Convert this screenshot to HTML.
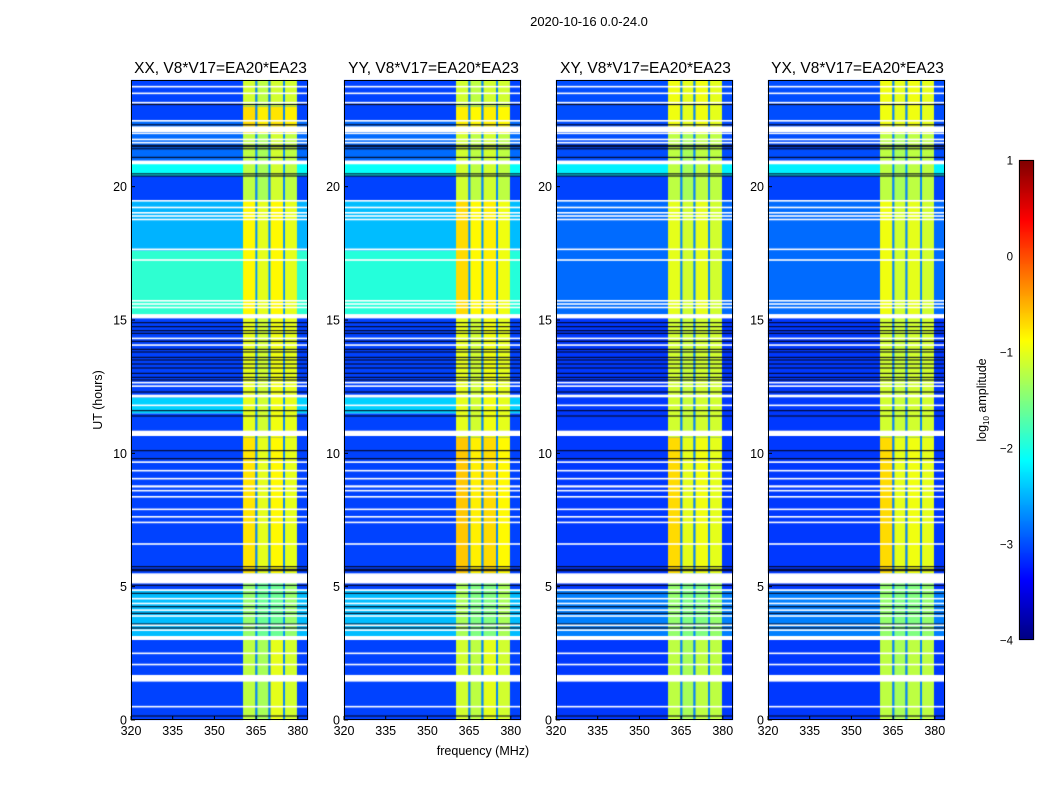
<!DOCTYPE html>
<html><head><meta charset="utf-8"><style>
body{margin:0;background:#fff;}
#wrap{position:relative;width:1050px;height:800px;overflow:hidden;font-family:"Liberation Sans",sans-serif;}
canvas,svg{position:absolute;left:0;top:0;}
</style></head><body>
<div id="wrap">
<canvas id="cv" width="1050" height="800"></canvas>
<svg id="sv" width="1050" height="800"></svg>
</div>
<script>
// ---- data ----
const panelTitles = ["XX, V8*V17=EA20*EA23","YY, V8*V17=EA20*EA23","XY, V8*V17=EA20*EA23","YX, V8*V17=EA20*EA23"];
const xTicks = [320,335,350,365,380];
const yTicks = [0,5,10,15,20];
const cbTicks = [1,0,-1,-2,-3,-4];
const subBands = [[360.3,364.8],[365.4,369.5],[370.1,374.8],[375.4,379.7]];
const darkStripes = [[364.8,365.4],[369.5,370.1],[374.8,375.4]];
const whiteFlags = [[23.72,23.78],[23.47,23.53],[23.12,23.18],[22.44,22.5],[22.05,22.26],[21.97,22.03],[21.74,21.8],[21.62,21.68],[20.84,20.98],[19.44,19.5],[19.19,19.25],[18.99,19.05],[18.87,18.93],[18.74,18.8],[17.62,17.68],[17.22,17.28],[15.69,15.75],[15.57,15.63],[15.44,15.5],[15.06,15.22],[14.28,14.34],[14.03,14.09],[12.62,12.68],[12.49,12.55],[12.1,12.2],[11.77,11.83],[10.65,10.85],[9.64,9.7],[9.32,9.38],[9.02,9.08],[8.72,8.8],[8.57,8.63],[8.34,8.4],[7.87,7.93],[7.59,7.65],[7.38,7.44],[6.57,6.63],[5.12,5.5],[4.84,4.9],[4.52,4.58],[4.34,4.4],[4.09,4.15],[3.87,3.93],[3.52,3.58],[3.34,3.4],[3.0,3.15],[2.47,2.53],[2.05,2.11],[1.44,1.69],[0.47,0.53]];
const blackLines = [23.08,22.32,21.55,21.5,21.42,21.1,20.48,20.4,14.9,14.75,14.6,14.5,14.2,13.9,13.8,13.6,13.5,13.35,13.2,13.0,12.85,12.75,12.3,11.6,11.4,10.1,9.8,5.75,5.65,5.6,5.05,4.75,4.25,4.0,3.6,3.45,0.15];
const bgXX = [[0,3,-3.05],[3,4.9,-2.45],[4.9,11.5,-3.05],[11.5,12.1,-2.35],[12.1,15.2,-3.05],[15.2,17.6,-1.9],[17.6,19.5,-2.5],[19.5,20.4,-3.05],[20.4,20.85,-2.1],[20.85,22.5,-2.85],[22.5,24,-3.05]];
const bgYY = [[0,3,-3.05],[3,4.9,-2.45],[4.9,11.5,-3.05],[11.5,12.1,-2.35],[12.1,15.2,-3.05],[15.2,17.6,-1.95],[17.6,19.5,-2.45],[19.5,20.4,-3.05],[20.4,20.85,-2.1],[20.85,22.5,-2.85],[22.5,24,-3.05]];
const bgXY = [[0,3,-3.1],[3,4.9,-2.75],[4.9,15.2,-3.1],[15.2,19.5,-2.85],[19.5,20.4,-3.05],[20.4,20.85,-2.2],[20.85,24,-3.0]];
const bgYX = [[0,3,-3.1],[3,4.9,-2.75],[4.9,15.2,-3.1],[15.2,19.5,-2.85],[19.5,20.4,-3.05],[20.4,20.85,-2.2],[20.85,24,-3.0]];
const bandXX = [[0,3,[-1.2,-1.3,-1.0,-1.1]],[3,5.5,[-1.4,-1.6,-1.6,-1.4]],[5.5,10.6,[-0.75,-1.0,-0.85,-1.0]],[10.6,15.2,[-1.0,-1.1,-0.95,-1.0]],[15.2,19.5,[-0.85,-1.0,-0.85,-1.0]],[19.5,22,[-1.2,-1.3,-1.1,-1.2]],[22,23,[-0.7,-0.8,-0.75,-0.8]],[23,24,[-1.1,-1.2,-1.1,-1.1]]];
const bandYY = [[0,3,[-1.1,-1.2,-1.0,-1.1]],[3,5.5,[-1.3,-1.5,-1.5,-1.3]],[5.5,10.6,[-0.6,-0.8,-0.7,-0.85]],[10.6,15.2,[-1.0,-1.1,-0.95,-1.0]],[15.2,19.5,[-0.7,-0.85,-0.8,-0.95]],[19.5,22,[-1.1,-1.2,-1.1,-1.2]],[22,23,[-0.8,-0.85,-0.8,-0.85]],[23,24,[-1.1,-1.2,-1.1,-1.1]]];
const bandXY = [[0,3,[-1.2,-1.3,-1.2,-1.2]],[3,5.5,[-1.4,-1.5,-1.5,-1.4]],[5.5,10.6,[-0.7,-1.0,-0.95,-1.0]],[10.6,15.2,[-1.1,-1.15,-1.1,-1.1]],[15.2,19.5,[-1.0,-1.1,-1.0,-1.1]],[19.5,22,[-1.2,-1.3,-1.2,-1.2]],[22,24,[-0.95,-1.0,-0.95,-1.0]]];
const bandYX = [[0,3,[-1.2,-1.3,-1.2,-1.2]],[3,5.5,[-1.4,-1.5,-1.5,-1.4]],[5.5,10.6,[-0.7,-1.0,-0.95,-1.0]],[10.6,15.2,[-1.1,-1.15,-1.1,-1.1]],[15.2,19.5,[-0.95,-1.1,-1.0,-1.1]],[19.5,22,[-1.2,-1.3,-1.2,-1.2]],[22,24,[-0.95,-1.0,-0.95,-1.0]]];
const stripeLevel = -2.7;
const panelBg = [bgXX,bgYY,bgXY,bgYX];
const panelBand = [bandXX,bandYY,bandXY,bandYX];

// ---- layout ----
const panelX = [131,344,556,768], PW = 177, PT = 80, PB = 720;
const FMIN = 320, FMAX = 320 + PW/2.78, TMIN = 0, TMAX = 24;
const vmin = -4, vmax = 1;
function xs(p,f){return panelX[p] + (f-FMIN)/(FMAX-FMIN)*PW;}
function ys(t){return PB - (t-TMIN)/(TMAX-TMIN)*(PB-PT);}
function jet(v){
  let n=(v-vmin)/(vmax-vmin); n=Math.max(0,Math.min(1,n));
  const c=x=>Math.round(255*Math.max(0,Math.min(1,x)));
  const r=c(Math.min(4*n-1.5,-4*n+4.5)), g=c(Math.min(4*n-0.5,-4*n+3.5)), b=c(Math.min(4*n+0.5,-4*n+2.5));
  return `rgb(${r},${g},${b})`;
}
const cv=document.getElementById('cv'), ctx=cv.getContext('2d');
function rectF(p,f0,f1,t0,t1,col){
  const x0=xs(p,f0),x1=xs(p,f1),y0=ys(t1),y1=ys(t0);
  ctx.fillStyle=col; ctx.fillRect(x0,y0,x1-x0,y1-y0);
}
for(let p=0;p<4;p++){
  panelBg[p].forEach(s=>rectF(p,FMIN,FMAX,s[0],s[1],jet(s[2])));
  panelBand[p].forEach(s=>{
    subBands.forEach((b,i)=>rectF(p,b[0],b[1],s[0],s[1],jet(s[2][i])));
    darkStripes.forEach(d=>rectF(p,d[0],d[1],s[0],s[1],jet(stripeLevel)));
  });
  blackLines.forEach(t=>rectF(p,FMIN,FMAX,t-0.02,t+0.02,'#05051a'));
  whiteFlags.forEach(w=>rectF(p,FMIN,FMAX,w[0],w[1],'#ffffff'));
}
// colorbar
const CBX=1019,CBW=15,CBT=160,CBB=640;
for(let y=CBT;y<CBB;y++){
  const v=vmax-(y-CBT)/(CBB-CBT)*(vmax-vmin);
  ctx.fillStyle=jet(v); ctx.fillRect(CBX,y,CBW,1);
}

// ---- annotations ----
const sv=document.getElementById('sv'), NS='http://www.w3.org/2000/svg';
function el(tag,attrs,txt){const e=document.createElementNS(NS,tag);for(const k in attrs)e.setAttribute(k,attrs[k]);if(txt!==undefined)e.textContent=txt;sv.appendChild(e);return e;}
let e=el('text',{x:589,y:26,'text-anchor':'middle','font-size':13,fill:'#000'},'2020-10-16 0.0-24.0');


for(let p=0;p<4;p++){
  e=el('rect',{x:panelX[p]+0.5,y:PT+0.5,width:PW-1,height:PB-PT-1,fill:'none',stroke:'#000','stroke-width':1});
  
  
  e=el('text',{x:panelX[p]+PW/2+1,y:PT-7,'text-anchor':'middle','font-size':15.5,fill:'#000'},panelTitles[p]);
  
  
  xTicks.forEach(f=>{
    const x=xs(p,f);
    e=el('line',{x1:x,x2:x,y1:PB,y2:PB-4,stroke:'#000'});
    
    
    e=el('text',{x:x,y:PB+15,'text-anchor':'middle','font-size':12.5,fill:'#000'},String(f));
    
    
  });
  yTicks.forEach(t=>{
    const y=ys(t);
    e=el('line',{x1:panelX[p],x2:panelX[p]+4,y1:y,y2:y,stroke:'#000'});
    
    
    e=el('text',{x:panelX[p]-4,y:y+4.5,'text-anchor':'end','font-size':12.5,fill:'#000'},String(t));
    
    
  });
}
e=el('text',{x:483,y:755,'text-anchor':'middle','font-size':12.5,fill:'#000'},'frequency (MHz)');


e=el('text',{x:102,y:400,'text-anchor':'middle','font-size':12.5,fill:'#000',transform:'rotate(-90 102 400)'},'UT (hours)');


e=el('rect',{x:CBX+0.5,y:CBT+0.5,width:CBW-1,height:CBB-CBT-1,fill:'none',stroke:'#000'});


cbTicks.forEach(v=>{
  const y=CBT+(vmax-v)/(vmax-vmin)*(CBB-CBT);
  e=el('text',{x:CBX-6,y:y+4.5,'text-anchor':'end','font-size':11.5,fill:'#000'},v<0?'\u2212'+(-v):String(v));
  
  
});
e=el('text',{x:986,y:400,'text-anchor':'middle','font-size':12.5,fill:'#000',transform:'rotate(-90 986 400)'});


e.innerHTML='log<tspan font-size="8" dy="3">10</tspan><tspan dy="-3"> amplitude</tspan>';
</script>
</body></html>
